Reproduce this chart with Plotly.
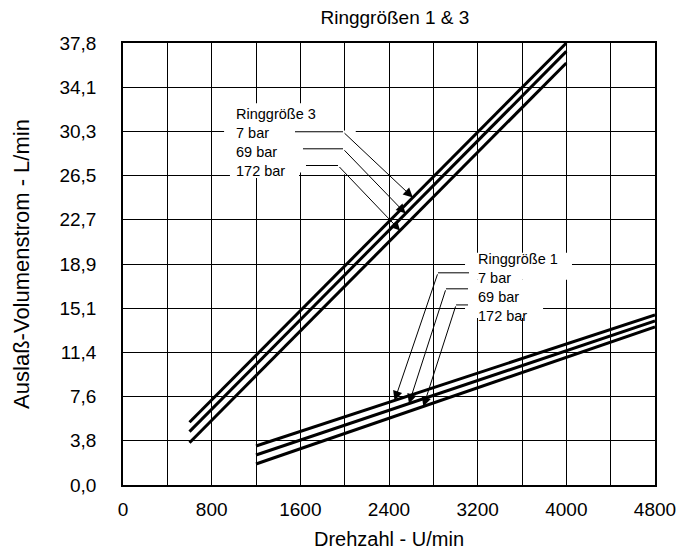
import numpy as np
import plotly.graph_objects as go

# ---- data ----
GPM_TO_LPM = 3.785

ring3_rpm = [600, 4000]
ring3_7bar = [5.37, 37.85]
ring3_69bar = [4.57, 37.13]
ring3_172bar = [3.62, 36.14]

ring1_rpm = [1200, 4800]
ring1_7bar = [3.34, 14.57]
ring1_69bar = [2.57, 14.05]
ring1_172bar = [1.80, 13.54]

pressure_labels = ["7 bar", "69 bar", "172 bar"]
x_tick_vals = [0, 800, 1600, 2400, 3200, 4000, 4800]
y_tick_gpm = list(range(0, 11))
y_tick_labels = ["0,0", "3,8", "7,6", "11,4", "15,1", "18,9",
                 "22,7", "26,5", "30,3", "34,1", "37,8"]

FONT = "Liberation Sans, Arial, Helvetica, sans-serif"

fig = go.Figure()

ring3_series = [ring3_7bar, ring3_69bar, ring3_172bar]
ring1_series = [ring1_7bar, ring1_69bar, ring1_172bar]

for name, ys in zip(pressure_labels, ring3_series):
    fig.add_trace(go.Scatter(x=ring3_rpm, y=ys, mode="lines", name="Ringgröße 3 " + name,
                             line=dict(color="black", width=3), showlegend=False))
for name, ys in zip(pressure_labels, ring1_series):
    fig.add_trace(go.Scatter(x=ring1_rpm, y=ys, mode="lines", name="Ringgröße 1 " + name,
                             line=dict(color="black", width=3), showlegend=False))

# ---- white masks behind the label blocks (between grid and traces) ----
masks = [
    (912, 1932, 26.75, 32.7),
    (965, 1588, 26.3, 26.75),
    (1932, 2100, 26.6, 30.35),
    (3086, 4051, 17.57, 19.88),
    (3086, 3790, 14.31, 17.57),
]
for x0, x1, y0, y1 in masks:
    fig.add_shape(type="rect", x0=x0, x1=x1, y0=y0, y1=y1, xref="x", yref="y",
                  fillcolor="white", line=dict(width=0), layer="between")

annotations = []

def add_labels(header, x, y_center):
    text = "<br>".join([header] + pressure_labels)
    annotations.append(dict(x=x, y=y_center, xref="x", yref="y", text=text, showarrow=False,
                            xanchor="left", yanchor="middle", align="left",
                            font=dict(family=FONT, size=14.5, color="black")))

def add_leaders(rpm, series, starts, bends, levels, tips):
    for ys, xs, xb, yl, xt in zip(series, starts, bends, levels, tips):
        yt = float(np.interp(xt, rpm, ys))
        fig.add_trace(go.Scatter(x=[xs, xb], y=[yl, yl], mode="lines",
                                 line=dict(color="black", width=1), showlegend=False,
                                 hoverinfo="skip"))
        annotations.append(dict(x=xt, y=yt, ax=xb, ay=yl, xref="x", yref="y",
                                axref="x", ayref="y", text="", showarrow=True,
                                arrowhead=2, arrowsize=1.9, arrowwidth=1,
                                arrowcolor="black", standoff=0, startstandoff=0))

add_labels("Ringgröße 3", 1002, 29.36)
add_leaders(ring3_rpm, ring3_series, [1552, 1624, 1651], [1985, 1985, 1940],
            [30.25, 28.79, 27.36], [2615, 2550, 2500])

add_labels("Ringgröße 1", 3185, 16.95)
add_leaders(ring1_rpm, ring1_series, [3122, 3113, 3113], [2842, 2914, 3005],
            [18.17, 16.8, 15.42], [2450, 2580, 2710])

fig.update_layout(
    width=688, height=554,
    margin=dict(l=123, r=33, t=43, b=69, autoexpand=False),
    paper_bgcolor="white", plot_bgcolor="white",
    font=dict(family=FONT, size=18, color="black"),
    title=dict(text="Ringgrößen 1 & 3", x=0.574, xref="container", xanchor="center",
               y=0.969, yref="container", yanchor="middle",
               font=dict(family=FONT, size=19, color="black")),
    annotations=annotations,
    showlegend=False,
)

fig.update_xaxes(
    range=[0, 4800], tickmode="array", tickvals=x_tick_vals,
    ticktext=[str(v) for v in x_tick_vals],
    showgrid=True, gridcolor="black", gridwidth=1,
    minor=dict(dtick=400, tick0=0, showgrid=True, gridcolor="black", gridwidth=1),
    showline=True, mirror=True, linecolor="black", linewidth=1.5,
    ticks="outside", ticklen=6, tickcolor="rgba(0,0,0,0)",
    zeroline=False, automargin=False,
    tickfont=dict(family=FONT, size=19, color="black"),
    title=dict(text="Drehzahl - U/min", standoff=13,
               font=dict(family=FONT, size=20, color="black")),
)

fig.update_yaxes(
    range=[0, 10 * GPM_TO_LPM], tickmode="array",
    tickvals=[g * GPM_TO_LPM for g in y_tick_gpm], ticktext=y_tick_labels,
    showgrid=True, gridcolor="black", gridwidth=1,
    showline=True, mirror=True, linecolor="black", linewidth=1.5,
    ticks="outside", ticklen=21, tickcolor="rgba(0,0,0,0)",
    zeroline=False, automargin=False,
    tickfont=dict(family=FONT, size=19, color="black"),
    title=dict(text="Auslaß-Volumenstrom - L/min", standoff=24,
               font=dict(family=FONT, size=22, color="black")),
)

fig.write_html("out.html")
